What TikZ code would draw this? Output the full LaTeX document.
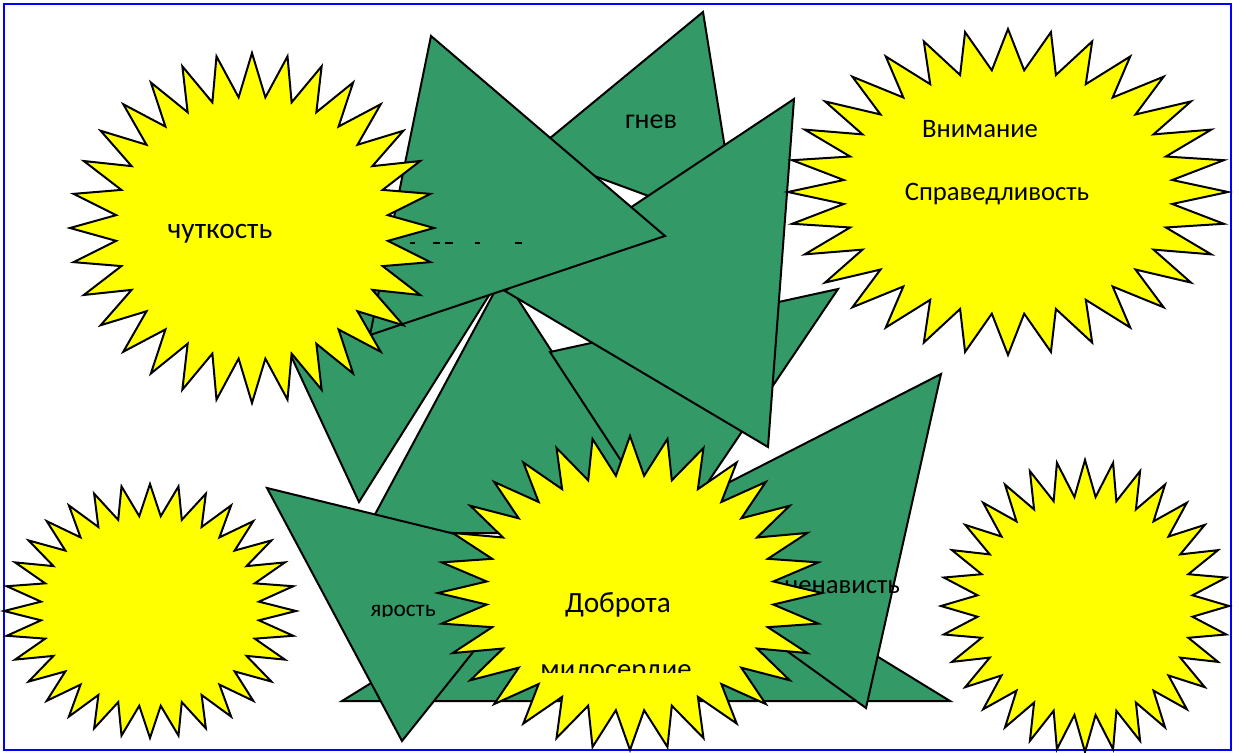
\documentclass[tikz,border=0pt]{standalone}
\usepackage{fontspec}
\setmainfont{Carlito}
\usepackage{tikz}
\definecolor{leaf}{RGB}{51,153,102}
\definecolor{sun}{RGB}{255,255,0}
\definecolor{frame}{RGB}{0,0,255}
\tikzset{%
  shard/.style={draw=black, line width=1.5pt, fill=leaf, line join=miter},% green triangle
  burst/.style={draw=black, line width=1.5pt, fill=sun, line join=miter},% yellow 32-point star
  word/.style={anchor=base, inner sep=0pt, text=black, font=\fontsize{20}{24}\selectfont}% label
}
% 32-point star: centre x, centre y, radius x, radius y
\newcommand*{\sunburst}[4]{
  \filldraw[burst] ({#1+#3},#2)
    \foreach \k in {0,...,31} {
      -- ({#1+0.75*#3*cos(\k*11.25+5.625)},{#2-0.75*#4*sin(\k*11.25+5.625)})
      -- ({#1+#3*cos(\k*11.25+11.25)},{#2-#4*sin(\k*11.25+11.25)})
    } -- cycle;}

\begin{document}
\begin{tikzpicture}[x=0.75pt,y=-0.75pt]
\useasboundingbox (0,0) rectangle (1239,753);
\fill[white] (0,0) rectangle (1239,753);
\draw[frame, line width=1.5pt] (4,4) rectangle (1231,750);

% triangles, back to front
\filldraw[shard] (265,300) -- (505,270) -- (359,502) -- cycle;
\filldraw[shard] (503,276) -- (669,533) -- (365,533) -- cycle;
\filldraw[shard] (838,289) -- (671,537) -- (550,352) -- cycle;
\filldraw[shard] (703,12) -- (738,229) -- (532,153) -- cycle;
\node[word, font=\fontsize{21}{25}\selectfont] (gnev) at (651,128) {гнев};
\filldraw[shard] (794,99) -- (768,447) -- (505,291) -- cycle;
\filldraw[shard] (431,36) -- (665,236) -- (370,335) -- cycle;
\draw[line width=0.8pt, dash pattern=on 3.75pt off 13.5pt on 5.25pt off 3.75pt on 6pt off 16.5pt on 3.75pt off 26.25pt on 5.25pt off 40pt] (410,243) -- (522,243);

\sunburst{252}{228}{182}{175}
\node[word, font=\fontsize{22}{26}\selectfont] (chut) at (220,238) {чуткость};

\filldraw[shard] (342,701) -- (645,514) -- (950,701) -- cycle;
\filldraw[shard] (267,488) -- (549,557) -- (402,741) -- cycle;
\begin{scope}
  \clip (360,590) rectangle (450,616);
  \node[word, font=\fontsize{17.5}{20}\selectfont] (yar) at (403,616) {ярость};
\end{scope}
\filldraw[shard] (941,374) -- (866,708) -- (626,535) -- cycle;
\node[word] (nen) at (842,593) {ненависть};

\sunburst{630}{593}{192}{157}
\node[word, font=\fontsize{22}{26}\selectfont] (dobr) at (618,612) {Доброта};
\begin{scope}
  \clip (520,655) rectangle (720,672);
  \node[word, font=\fontsize{21.5}{25}\selectfont] (mil) at (616,678) {милосердие};
\end{scope}

\sunburst{1008}{192}{220}{163}
\node[word] (vnim) at (980,137) {Внимание};
\node[word] (sprav) at (997,200) {Справедливость};

\sunburst{150}{611}{146}{127}
\sunburst{1085}{606}{144}{146}
\end{tikzpicture}
\end{document}
